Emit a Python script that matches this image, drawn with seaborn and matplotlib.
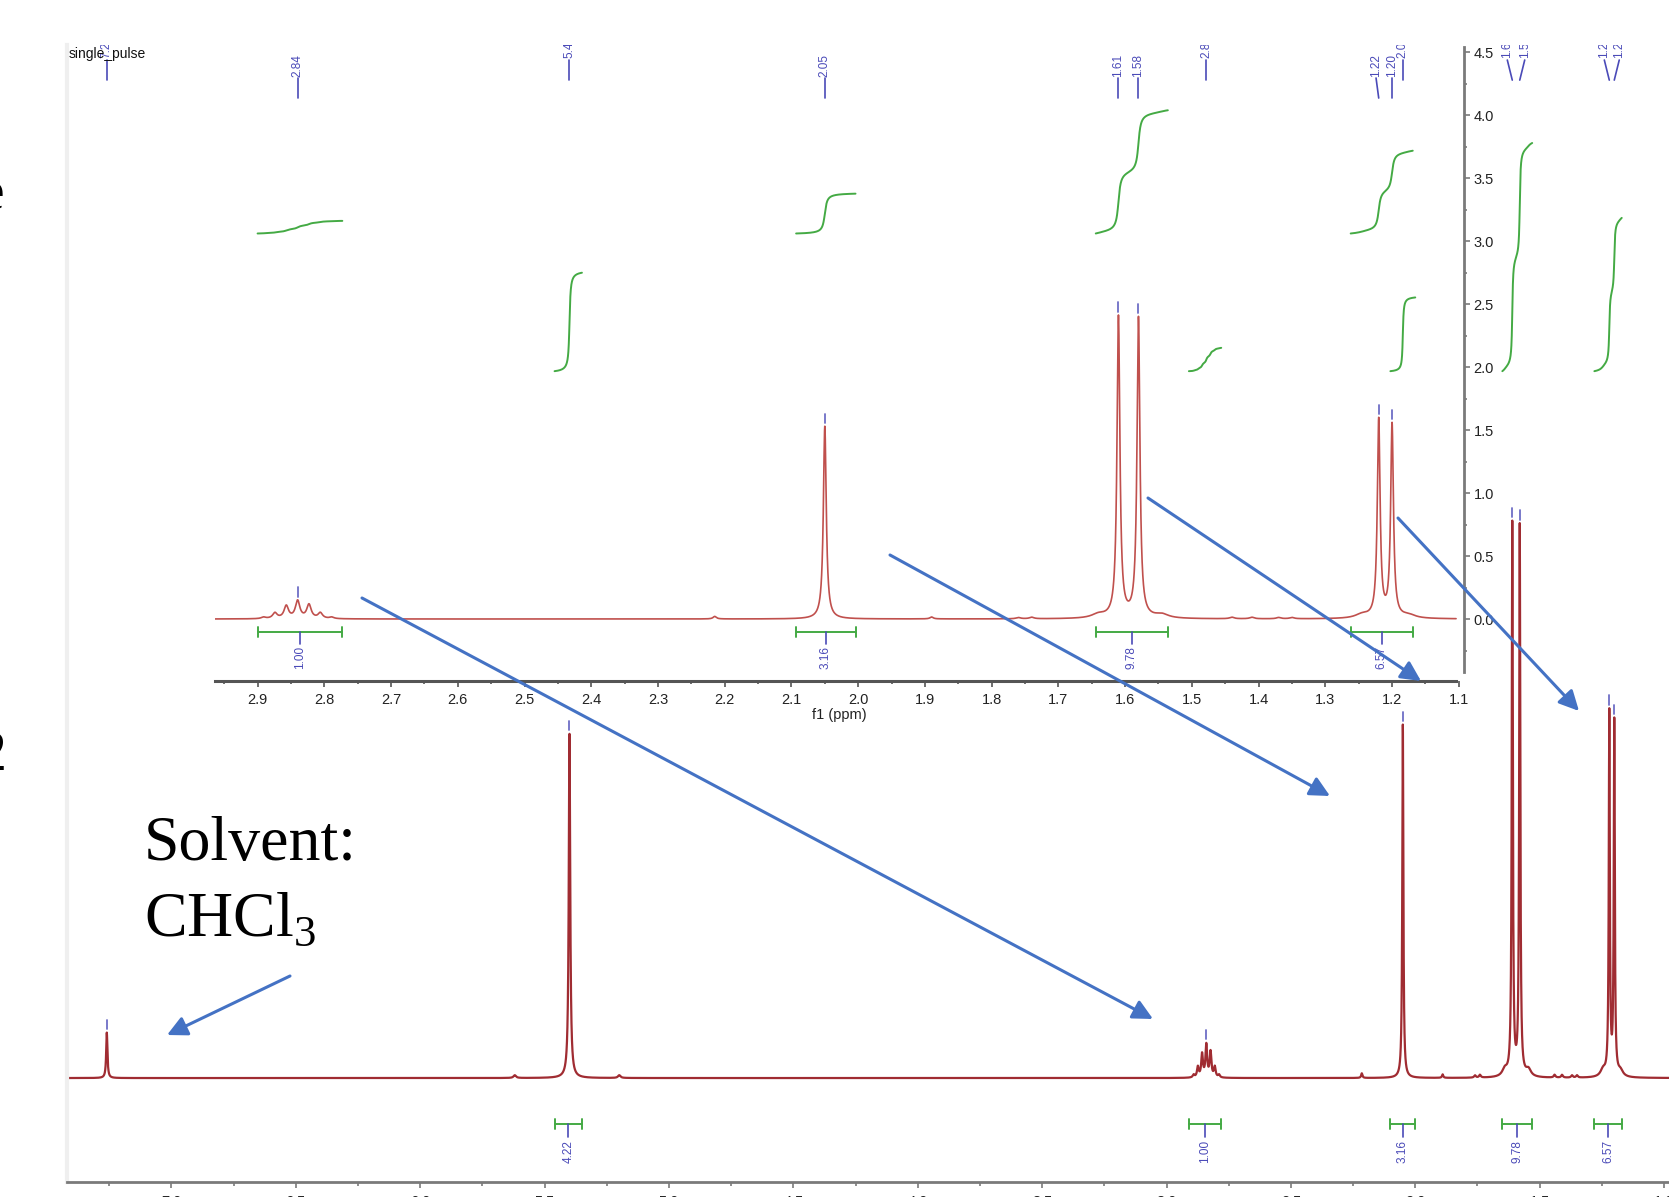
import numpy as np
import pandas as pd
import matplotlib
matplotlib.use("Agg")
import matplotlib.pyplot as plt
import seaborn as sns
from matplotlib.ticker import MultipleLocator, FixedLocator, FormatStrFormatter

# ---------------- data ----------------
# main signals (ppm, height in spectrum units, half width at half maximum in ppm)
peak_ppm = [7.26, 5.40, 2.891, 2.874, 2.857, 2.840, 2.823, 2.806, 2.789,
            2.05, 1.61, 1.58, 1.22, 1.20]
peak_height = [0.197, 1.49, 0.012, 0.045, 0.10, 0.14, 0.11, 0.045, 0.012,
               1.53, 2.39, 2.38, 1.57, 1.53]
peak_hwhm = [0.003, 0.0035, 0.004, 0.004, 0.004, 0.004, 0.004, 0.004, 0.004,
             0.0026, 0.0026, 0.0026, 0.0025, 0.0025]
# small baseline bumps
bump_ppm = [5.62, 5.20, 2.215, 1.89, 1.76, 1.74, 1.44, 1.41, 1.37, 1.35, 1.64, 1.545, 1.245, 1.175]
bump_height = [0.012, 0.012, 0.02, 0.015, 0.01, 0.012, 0.012, 0.012, 0.01, 0.01, 0.03, 0.03, 0.03, 0.025]
bump_hwhm = [0.006, 0.006, 0.003, 0.003, 0.004, 0.004, 0.004, 0.004, 0.004, 0.004, 0.012, 0.012, 0.012, 0.012]

# integrals
inset_int_hi = [2.900, 2.093, 1.644, 1.262]
inset_int_lo = [2.773, 2.004, 1.536, 1.169]
inset_int_val = [1.00, 3.16, 9.78, 6.57]
main_int_hi = [5.46, 2.91, 2.10, 1.65, 1.28]
main_int_lo = [5.35, 2.78, 2.00, 1.53, 1.17]
main_int_val = [4.22, 1.00, 3.16, 9.78, 6.57]

# peak picking labels
inset_label_ppm = [2.84, 2.05, 1.61, 1.58, 1.22, 1.20]
inset_label_txt = ["2.84", "2.05", "1.61", "1.58", "1.22", "1.20"]
main_label_ppm = [7.26, 5.40, 2.84, 2.05, 1.61, 1.58, 1.22, 1.20]
main_label_txt = ["7.26", "5.40", "2.84", "2.05", "1.61", "1.58", "1.22", "1.20"]

inset_yticks = [0.0, 0.5, 1.0, 1.5, 2.0, 2.5, 3.0, 3.5, 4.0, 4.5]
inset_yminor = [-0.25, 0.25, 0.75, 1.25, 1.75, 2.25, 2.75, 3.25, 3.75, 4.25]

# ---------------- style ----------------
sns.set_theme(style="white")
plt.rcParams['font.family'] = ['Liberation Sans', 'DejaVu Sans']

W, H = 1669, 1197
SPEC_MAIN = "#a02c32"
SPEC_INSET = "#c0504d"
GREEN = "#44aa44"
BLUE = "#4a4ab8"
AXGRAY = "#7a7a7a"
ARROW = "#4472c4"

all_ppm = np.array(peak_ppm + bump_ppm)
all_h = np.array(peak_height + bump_height)
all_g = np.array(peak_hwhm + bump_hwhm)


def spectrum(x):
    x = np.asarray(x, dtype=float)
    y = np.zeros_like(x)
    for p, h, g in zip(all_ppm, all_h, all_g):
        y += h * g ** 2 / (g ** 2 + (x - p) ** 2)
    return y


fig = plt.figure(figsize=(W / 100, H / 100), dpi=100)

# ---------------- main spectrum ----------------
ax = fig.add_axes([67 / W, (H - 1182) / H, (W - 67) / W, (1182 - 45) / H])
ax.set_facecolor("none")
x_main = np.arange(7.42, 0.98, -0.0002)
df_main = pd.DataFrame({"ppm": x_main, "intensity": spectrum(x_main)})
sns.lineplot(data=df_main, x="ppm", y="intensity", ax=ax, color=SPEC_MAIN,
             linewidth=1.6, estimator=None, sort=False)
ax.set_xlim(7.42, 0.98)
ax.set_ylim(-0.450, 4.472)
ax.set_xlabel("")
ax.set_ylabel("")
ax.set_yticks([])
for s in ["top", "right"]:
    ax.spines[s].set_visible(False)
ax.spines["left"].set_color("#efefef")
ax.spines["left"].set_linewidth(3)
ax.spines["bottom"].set_color(AXGRAY)
ax.spines["bottom"].set_linewidth(2)
ax.xaxis.set_major_locator(MultipleLocator(0.5))
ax.xaxis.set_minor_locator(MultipleLocator(0.25))
ax.xaxis.set_major_formatter(FormatStrFormatter("%.1f"))
ax.tick_params(axis="x", which="major", direction="out", length=4, width=1.2,
               color=AXGRAY, labelsize=10.5, pad=5, bottom=True, labelcolor="#222222")
ax.tick_params(axis="x", which="minor", direction="out", length=3, width=1.2,
               color=AXGRAY, bottom=True)

# main integrals
for hi, lo, v in zip(main_int_hi, main_int_lo, main_int_val):
    xs = np.linspace(hi, lo, 400)
    ys = spectrum(xs)
    cum = np.concatenate([[0], np.cumsum((ys[1:] + ys[:-1]) / 2)])
    cum = cum / cum[-1] * v * 0.101 + 3.06
    sns.lineplot(x=xs, y=cum, ax=ax, color=GREEN, linewidth=1.4, estimator=None, sort=False)
    yb = -0.199
    ax.plot([hi, lo], [yb, yb], color=GREEN, lw=1.4)
    ax.plot([hi, hi], [yb - 0.022, yb + 0.022], color=GREEN, lw=1.4)
    ax.plot([lo, lo], [yb - 0.022, yb + 0.022], color=GREEN, lw=1.4)
    c = (hi + lo) / 2
    ax.plot([c, c], [yb, -0.255], color=BLUE, lw=1.2)
    ax.text(c, -0.268, f"{v:.2f}", rotation=90, ha="center", va="top",
            color=BLUE, fontsize=8.5)

# main peak labels (clipped at the top)
main_offsets = {1.61: 0.02, 1.58: -0.02, 1.22: 0.02, 1.20: -0.02}
for p, t in zip(main_label_ppm, main_label_txt):
    top = spectrum([p])[0]
    ax.plot([p, p], [top + 0.015, top + 0.055], color=BLUE, lw=1.3, alpha=0.8)
    tx = p + main_offsets.get(p, 0.0)
    ax.plot([p, tx], [4.32, 4.407], color=BLUE, lw=1.2, clip_on=True)
    ax.text(tx, 4.416, t, rotation=90, ha="center", va="bottom", color=BLUE,
            fontsize=8.5, clip_on=True)

ax.text(7.415, 4.462, "single_pulse", ha="left", va="top",
        fontsize=10, color="#111111")

# ---------------- inset ----------------
axi = fig.add_axes([215 / W, (H - 681) / H, (1464 - 215) / W, (681 - 45) / H])
axi.set_facecolor("none")
x_in = np.arange(2.9638, 1.104, -0.0001)
df_in = pd.DataFrame({"ppm": x_in, "intensity": spectrum(x_in)})
sns.lineplot(data=df_in, x="ppm", y="intensity", ax=axi, color=SPEC_INSET,
             linewidth=1.2, estimator=None, sort=False)
axi.set_xlim(2.9638, 1.0922)
axi.set_ylim(-0.492, 4.556)
axi.set_ylabel("")
axi.set_xlabel("f1 (ppm)", fontsize=10.5, labelpad=1, color="#222222")
for s in ["top", "left"]:
    axi.spines[s].set_visible(False)
axi.spines["bottom"].set_color("#555555")
axi.spines["bottom"].set_linewidth(2.2)
axi.spines["bottom"].set_bounds(2.9638, 1.104)
axi.spines["right"].set_color(AXGRAY)
axi.spines["right"].set_linewidth(2)
axi.spines["right"].set_bounds(-0.421, 4.54)
axi.xaxis.set_major_locator(MultipleLocator(0.1))
axi.xaxis.set_minor_locator(MultipleLocator(0.05))
axi.xaxis.set_major_formatter(FormatStrFormatter("%.1f"))
axi.tick_params(axis="x", which="major", direction="out", length=4.5, width=1.2,
                color="#555555", labelsize=10.5, pad=4, bottom=True, labelcolor="#222222")
axi.tick_params(axis="x", which="minor", direction="out", length=2.5, width=1.2,
                color="#555555", bottom=True)
axi.yaxis.tick_right()
axi.yaxis.set_major_locator(FixedLocator(inset_yticks))
axi.yaxis.set_minor_locator(FixedLocator(inset_yminor))
axi.yaxis.set_major_formatter(FormatStrFormatter("%.1f"))
axi.tick_params(axis="y", which="major", direction="out", length=4, width=1.2,
                color=AXGRAY, labelsize=10.5, pad=3, right=True, left=False,
                labelcolor="#222222")
axi.tick_params(axis="y", which="minor", direction="out", length=2, width=1.2,
                color=AXGRAY, right=True, left=False)

# inset integrals
for hi, lo, v in zip(inset_int_hi, inset_int_lo, inset_int_val):
    xs = np.linspace(hi, lo, 400)
    ys = spectrum(xs)
    cum = np.concatenate([[0], np.cumsum((ys[1:] + ys[:-1]) / 2)])
    cum = cum / cum[-1] * v * 0.1 + 3.06
    sns.lineplot(x=xs, y=cum, ax=axi, color=GREEN, linewidth=1.4, estimator=None, sort=False)
    yb = -0.103
    axi.plot([hi, lo], [yb, yb], color=GREEN, lw=1.4)
    axi.plot([hi, hi], [yb - 0.04, yb + 0.04], color=GREEN, lw=1.4)
    axi.plot([lo, lo], [yb - 0.04, yb + 0.04], color=GREEN, lw=1.4)
    c = (hi + lo) / 2
    axi.plot([c, c], [yb, -0.2], color=BLUE, lw=1.2)
    axi.text(c, -0.214, f"{v:.2f}", rotation=90, ha="center", va="top",
             color=BLUE, fontsize=8.5)

inset_offsets = {1.22: 0.004}
for p, t in zip(inset_label_ppm, inset_label_txt):
    top = spectrum([p])[0]
    axi.plot([p, p], [top + 0.025, top + 0.1], color=BLUE, lw=1.3, alpha=0.8)
    tx = p + inset_offsets.get(p, 0.0)
    axi.plot([p, tx], [4.135, 4.294], color=BLUE, lw=1.2)
    axi.text(tx, 4.30, t, rotation=90, ha="center", va="bottom", color=BLUE,
             fontsize=8.5)

# ---------------- overlay: arrows and slide text ----------------
ov = fig.add_axes([0, 0, 1, 1])
ov.set_xlim(0, W)
ov.set_ylim(H, 0)
ov.axis("off")
ov.patch.set_alpha(0)

arrow_tail = [(290, 976), (362, 598), (890, 555), (1148, 498), (1398, 518)]
arrow_head = [(167, 1035), (1153, 1019), (1330, 796), (1421, 681), (1579, 711)]
for (x0, y0), (x1, y1) in zip(arrow_tail, arrow_head):
    ov.annotate("", xy=(x1, y1), xytext=(x0, y0),
                arrowprops=dict(arrowstyle="-|>,head_length=0.6,head_width=0.3",
                                mutation_scale=20, lw=2.2, color=ARROW,
                                shrinkA=0, shrinkB=0))

serif = ["Liberation Serif", "DejaVu Serif"]
ov.text(144, 860, "Solvent:", family=serif, fontsize=46, ha="left", va="baseline", color="black")
ov.text(144, 935, r"CHCl$_\mathregular{3}$", family=serif, fontsize=46, ha="left",
        va="baseline", color="black")
ov.text(4, 209, "e", family=serif, fontsize=40, ha="right", va="baseline", color="black")
ov.text(6, 770, "2", family=serif, fontsize=40, ha="right", va="baseline", color="black")

fig.savefig("out.png", dpi=100)
